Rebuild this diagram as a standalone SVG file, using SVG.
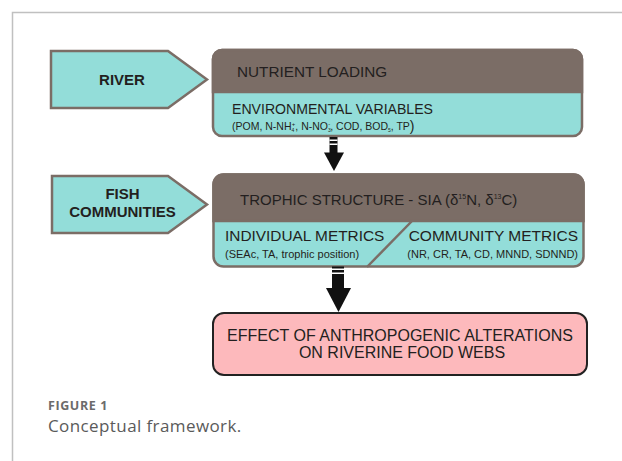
<svg xmlns="http://www.w3.org/2000/svg" width="622" height="461" viewBox="0 0 622 461">
<style>
.t{font-family:"Liberation Sans",Arial,sans-serif;fill:#231f20}
.b{font-weight:bold}
.pent{fill:#93ddd9;stroke:#7b6d66;stroke-width:2.5}
.cy{fill:#93ddd9;stroke:#7b6d66;stroke-width:2.5}
.br{fill:#7b6d66;stroke:#7b6d66;stroke-width:2.5}
.arr{fill:#111}
.wh{fill:#fff}
.cap{font-family:"Open Sans","Lato",sans-serif}
</style>
<rect width="622" height="461" fill="#fff"/>
<path d="M12.5,461 V12.5 H622" fill="none" stroke="#c0c0c0" stroke-width="1.5"/>

<g id="river">
<polygon class="pent" points="51,51 168,51 207,79.5 168,108 51,108"/>
<text class="t b" x="122" y="84.5" font-size="15" text-anchor="middle">RIVER</text>
</g>

<g id="nutrient">
<rect class="cy" x="213" y="50" width="369" height="86" rx="9"/>
<path class="br" d="M213,92 V59 a9,9 0 0 1 9,-9 H573 a9,9 0 0 1 9,9 V92 Z"/>
<text class="t" x="237" y="76.5" font-size="15.3">NUTRIENT LOADING</text>
<text class="t" x="232" y="114" font-size="14.1">ENVIRONMENTAL VARIABLES</text>
<text class="t" x="232" y="130" font-size="10.5">(POM, N-NH<tspan font-size="5" dy="1.5">4</tspan><tspan font-size="6" dx="-2.5" dy="-5.5">+</tspan><tspan dy="4">, N-NO</tspan><tspan font-size="5" dy="1.5">3</tspan><tspan font-size="6" dx="-2.5" dy="-5.5">-</tspan><tspan dy="4">, COD, BOD</tspan><tspan font-size="5" dy="1.5">5</tspan><tspan dy="-1.5">, TP</tspan><tspan font-size="14" dy="0.5">)</tspan></text>
</g>

<g id="fish">
<polygon class="pent" points="52,176 168,176 207,204.5 168,233 52,233"/>
<text class="t b" x="122.5" y="199" font-size="15" text-anchor="middle">FISH</text>
<text class="t b" x="122.5" y="217" font-size="15" text-anchor="middle">COMMUNITIES</text>
</g>

<g id="trophic">
<rect class="cy" x="213.5" y="174.5" width="370" height="92" rx="10"/>
<path class="br" d="M213.5,221 V184.5 a10,10 0 0 1 10,-10 H573.5 a10,10 0 0 1 10,10 V221 Z"/>
<line x1="367" y1="267" x2="412" y2="221" stroke="#7b6d66" stroke-width="2.5"/>
<text class="t" x="240" y="205" font-size="15">TROPHIC STRUCTURE - SIA (δ<tspan font-size="7" dy="-6">15</tspan><tspan dy="6">N, δ</tspan><tspan font-size="7" dy="-6">13</tspan><tspan dy="6">C)</tspan></text>
<text class="t" x="225" y="241" font-size="15.4">INDIVIDUAL METRICS</text>
<text class="t" x="225" y="258" font-size="11">(SEAc, TA, trophic position)</text>
<text class="t" x="578" y="241" font-size="15.5" text-anchor="end">COMMUNITY METRICS</text>
<text class="t" x="578" y="258" font-size="11" text-anchor="end">(NR, CR, TA, CD, MNND, SDNND)</text>
</g>

<g id="effect">
<rect x="213" y="313" width="374" height="62" rx="11" fill="#fdb9bc" stroke="#222" stroke-width="2"/>
<text class="t" x="400" y="341" font-size="16" text-anchor="middle">EFFECT OF ANTHROPOGENIC ALTERATIONS</text>
<text class="t" x="402" y="358" font-size="16" text-anchor="middle">ON RIVERINE FOOD WEBS</text>
</g>

<g id="connectors">
<rect class="arr" x="329.5" y="137" width="8" height="16"/>
<rect class="wh" x="329.5" y="139.5" width="8" height="1.5"/>
<rect class="wh" x="329.5" y="143.5" width="8" height="1.5"/>
<polygon class="arr" points="324,152.5 344,152.5 334,171"/>
<rect class="arr" x="332" y="266.5" width="12" height="22"/>
<rect class="wh" x="332" y="268.5" width="12" height="1.5"/>
<rect class="wh" x="332" y="272.5" width="12" height="1.5"/>
<polygon class="arr" points="326,288 351,288 338.5,312"/>
</g>

<text class="cap" x="48" y="410" font-size="12.5" font-weight="bold" letter-spacing="0.6" fill="#6b6b6b">FIGURE 1</text>
<text class="cap" x="48" y="432" font-size="17" letter-spacing="0.4" fill="#5a5a5a">Conceptual framework.</text>
</svg>
